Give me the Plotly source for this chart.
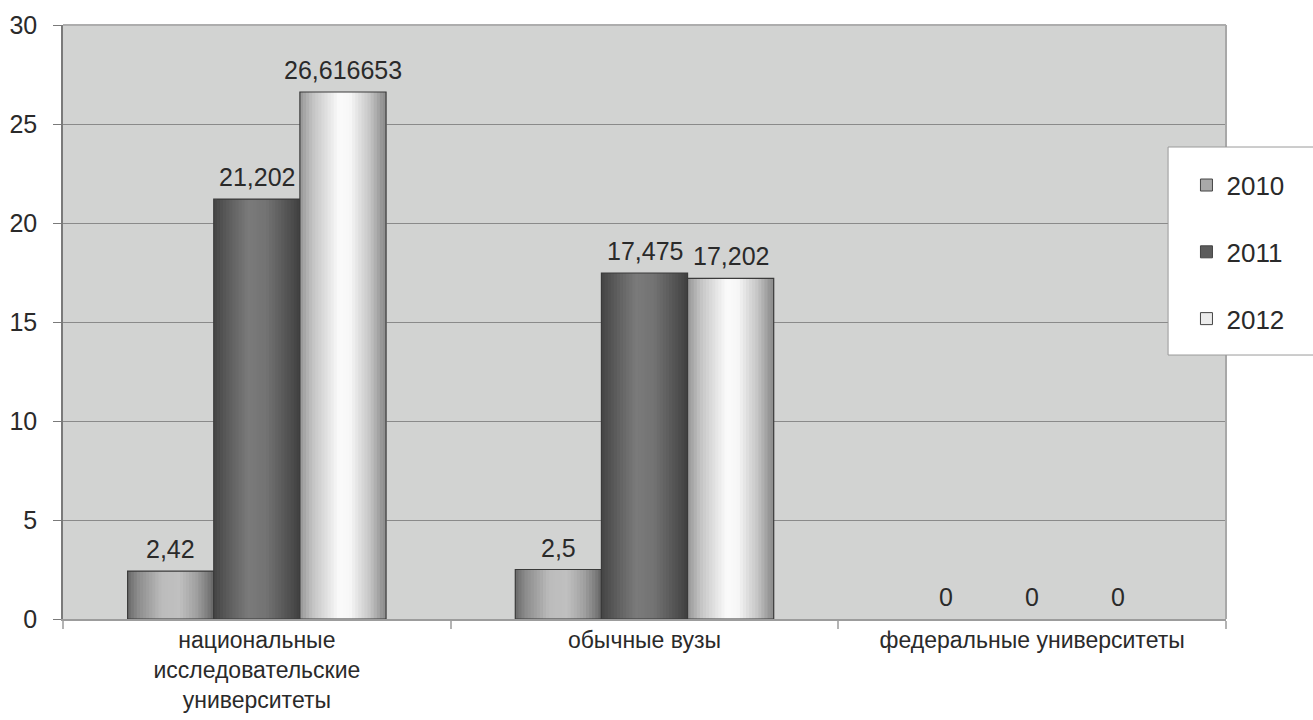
import plotly.graph_objects as go

# Chart data
categories = [
    "национальные<br>исследовательские<br>университеты",
    "обычные вузы",
    "федеральные университеты",
]
years = ["2010", "2011", "2012"]
values_2010 = [2.42, 2.5, 0]
values_2011 = [21.202, 17.475, 0]
values_2012 = [26.616653, 17.202, 0]
y_ticks = [0, 5, 10, 15, 20, 25, 30]

series = [values_2010, values_2011, values_2012]

# Horizontal "cylinder" shading for each series: (fraction across bar, grey level)
shading = [
    [(0.0, 105), (0.12, 140), (0.4, 188), (0.6, 192), (0.8, 160), (0.93, 125), (1.0, 100)],
    [(0.0, 68), (0.15, 90), (0.4, 122), (0.6, 116), (0.85, 84), (1.0, 64)],
    [(0.0, 150), (0.15, 195), (0.45, 250), (0.58, 248), (0.82, 195), (0.95, 150), (1.0, 140)],
]
legend_fill = ["#a9a9a9", "#5c5c5c", "#ececec"]


def grey_at(stops, t):
    for (t0, g0), (t1, g1) in zip(stops, stops[1:]):
        if t0 <= t <= t1:
            g = int(round(g0 + (g1 - g0) * (t - t0) / (t1 - t0)))
            return f"rgb({g},{g},{g})"
    g = stops[-1][1]
    return f"rgb({g},{g},{g})"


def fmt(v):
    return repr(v).rstrip("0").rstrip(".").replace(".", ",") if v else "0"


bar_w = 0.2222
group_left = -0.3333
n_strips = 28
FONT = "Liberation Sans, Arial, sans-serif"
TEXT_COLOR = "#2a2a2a"

fig = go.Figure()
labels = []

for i, (year, vals) in enumerate(zip(years, series)):
    left = group_left + i * bar_w
    step = bar_w / n_strips
    # shaded fill, built from strips that each run to the bar's right edge
    for k in range(n_strips):
        fig.add_trace(go.Bar(
            x=categories, y=vals,
            offset=left + k * step, width=bar_w - k * step,
            marker=dict(color=grey_at(shading[i], (k + 0.5) / n_strips), line=dict(width=0)),
            showlegend=False, hoverinfo="skip",
        ))
    # outline
    fig.add_trace(go.Bar(
        x=categories, y=vals,
        offset=left, width=bar_w,
        marker=dict(color="rgba(0,0,0,0)",
                    line=dict(color="#3a3a3a", width=[1.2 if v else 0 for v in vals])),
        showlegend=False, name=year,
    ))
    # value labels above each bar
    for j, v in enumerate(vals):
        labels.append(dict(
            x=j + left + bar_w / 2, y=v, xref="x", yref="y",
            text=fmt(v), showarrow=False,
            xanchor="center", yanchor="bottom", yshift=6,
            font=dict(family=FONT, size=25, color=TEXT_COLOR),
        ))

# legend entries
for i, year in enumerate(years):
    fig.add_trace(go.Bar(
        x=categories, y=[None, None, None], name=year,
        legendgroup=year,
        marker=dict(color=legend_fill[i], line=dict(color="#444444", width=1)),
    ))

fig.update_layout(
    width=1313, height=720,
    margin=dict(l=63, r=87, t=25, b=101),
    paper_bgcolor="white",
    plot_bgcolor="#d2d3d2",
    barmode="overlay",
    font=dict(family=FONT, size=25, color=TEXT_COLOR),
    annotations=labels,
    legend=dict(
        x=0.966, y=0.770, xanchor="left", yanchor="top",
        bgcolor="rgba(0,0,0,0)", borderwidth=0,
        tracegroupgap=30,
        font=dict(size=26, color=TEXT_COLOR),
        itemclick=False,
    ),
    xaxis=dict(
        range=[-0.5, 2.5],
        automargin=False,
        showgrid=False,
        showline=True, linecolor="#9c9c9c", linewidth=1.5,
        ticks="outside", tickson="boundaries", ticklen=8, tickcolor="#b4b4b4", tickwidth=1.5,
        ticklabelstandoff=0,
        tickfont=dict(size=23, color=TEXT_COLOR),
        fixedrange=True,
    ),
    yaxis=dict(
        range=[0, 30], tickvals=y_ticks,
        automargin=False,
        showgrid=True, gridcolor="#8a8a8a", gridwidth=1,
        zeroline=False,
        showline=True, linecolor="#7a7a7a", linewidth=1.5,
        ticks="outside", ticklen=8, tickcolor="#7a7a7a",
        ticklabelstandoff=11,
        tickfont=dict(size=25, color=TEXT_COLOR),
        fixedrange=True,
    ),
    shapes=[
        # frame of the plotting area (top and right edges)
        dict(type="line", xref="x domain", yref="y domain", x0=0, x1=1, y0=1, y1=1,
             line=dict(color="#adadad", width=2)),
        dict(type="line", xref="x domain", yref="y domain", x0=1, x1=1, y0=0, y1=1,
             line=dict(color="#a8a8a8", width=2)),
        # legend box
        dict(type="rect", xref="x domain", yref="y domain",
             x0=0.9502, x1=1.2, y0=0.4444, y1=0.7946,
             fillcolor="white", line=dict(color="#9a9a9a", width=1), layer="above"),
    ],
)

fig.write_html("out.html")
